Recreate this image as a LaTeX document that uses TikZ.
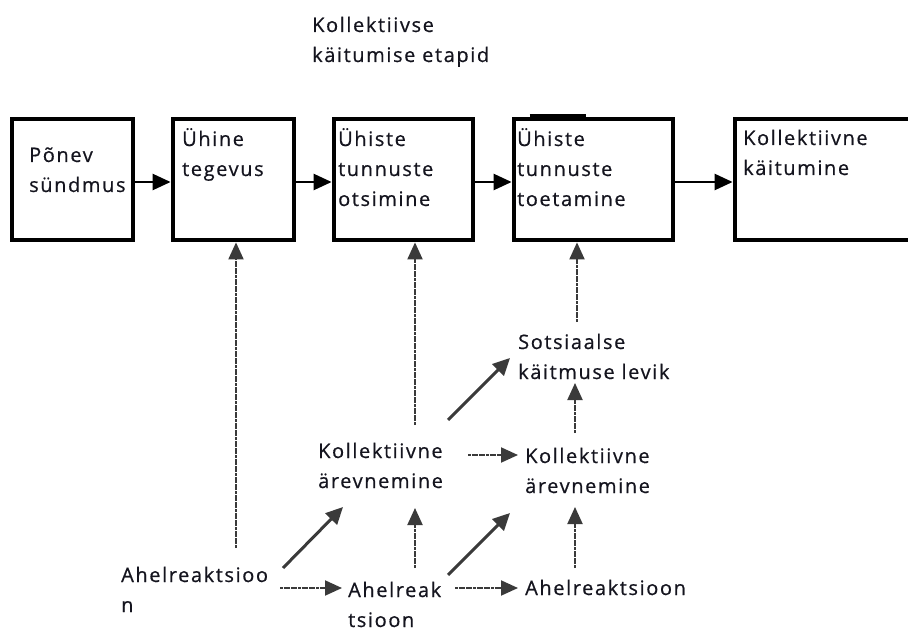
\documentclass[tikz,border=0pt]{standalone}
\usepackage{fontspec}
\setmainfont{Open Sans}[LetterSpace=8,FakeBold=0.6]
\usetikzlibrary{arrows.meta,calc}
\definecolor{ink}{HTML}{14141E}
\definecolor{lnk}{HTML}{3A3A3A}
\begin{document}
\begin{tikzpicture}[x=1pt,y=-1pt,
  lbl/.style={anchor=base west, inner sep=0pt, align=left, font=\fontsize{20}{30}\selectfont, text=ink},
  stage/.style={draw=black, line width=4.8pt, minimum height=121pt},
  flow/.style={line width=2.5pt, black, -{Triangle[length=18pt,width=16pt]}},
  link/.style={line width=2pt, lnk, dash pattern=on 3pt off 0.6pt, -{Triangle[length=17pt,width=15pt]}},
  diag/.style={line width=3pt, lnk, -{Triangle[length=17pt,width=16pt]}}]
\useasboundingbox (0,0) rectangle (908,631);
\clip (0,0) rectangle (908,631);
% title (anchor = baseline of the last line)
\node[lbl] (title) at (312,62) {Kollektiivse\\käitumise etapid};
% stage boxes
\node[stage, minimum width=121pt] (b1) at (72.5,179.5) {};
\node[stage, minimum width=121pt] (b2) at (233.5,179.5) {};
\node[stage, minimum width=139pt] (b3) at (403.5,179.5) {};
\node[stage, minimum width=159pt] (b4) at (593.5,179.5) {};
\node[stage, minimum width=200pt] (b5) at (835,179.5) {};
\draw[line width=6pt] ($(b4.north west)+(18,0)$) -- ($(b4.north west)+(74,0)$);
% box texts
\node[lbl] (t1) at (29,192) {Põnev\\sündmus};
\node[lbl] (t2) at (182,176) {Ühine\\tegevus};
\node[lbl] (t3) at (338,206) {Ühiste\\tunnuste\\otsimine};
\node[lbl] (t4) at (517,206) {Ühiste\\tunnuste\\toetamine};
\node[lbl] (t5) at (743,175) {Kollektiivne\\käitumine};
% flow arrows
\draw[flow] ([yshift=-2.5pt]b1.east) -- ([yshift=-2.5pt]b2.west);
\draw[flow] ([yshift=-2.5pt]b2.east) -- ([yshift=-2.5pt]b3.west);
\draw[flow] ([yshift=-2.5pt]b3.east) -- ([yshift=-2.5pt]b4.west);
\draw[flow] ([yshift=-2.5pt]b4.east) -- ([yshift=-2.5pt]b5.west);
% lower labels
\node[lbl] (s) at (518,379) {Sotsiaalse\\käitmuse levik};
\node[lbl] (a1) at (318,488) {Kollektiivne\\ärevnemine};
\node[lbl] (a2) at (525,493) {Kollektiivne\\ärevnemine};
\node[lbl] (c1) at (121,612) {Ahelreaktsioo\\n};
\node[lbl] (c2) at (348,627) {Ahelreak\\tsioon};
\node[lbl] (c3) at (525,595) {Ahelreaktsioon};
% connection points
\coordinate (c1up) at (236,548);
\coordinate (c1ne) at (283,568);
\coordinate (c1e) at (280,588);
\coordinate (c2in) at (342,588);
\coordinate (c2up) at (415,568);
\coordinate (c2ne) at (448,575);
\coordinate (c2e) at (455,588);
\coordinate (c3in) at (518,588);
\coordinate (c3up) at (575,568);
\coordinate (a1sw) at (343,507);
\coordinate (a1dn) at (415,508);
\coordinate (a1up) at (415,425);
\coordinate (a1e) at (468,455);
\coordinate (a1ne) at (448,420);
\coordinate (a2w) at (518,455);
\coordinate (a2sw) at (510,513);
\coordinate (a2dn) at (575,507);
\coordinate (a2up) at (575,433);
\coordinate (sdn) at (575,383);
\coordinate (ssw) at (510,358);
\coordinate (sup) at (577,322);
% lower connectors
\draw[diag] (c1ne) -- (a1sw);
\draw[link] (c1e) -- (c2in);
\draw[link] (c2up) -- (a1dn);
\draw[diag] (c2ne) -- (a2sw);
\draw[link] (c2e) -- (c3in);
\draw[link] (a1e) -- (a2w);
\draw[diag] (a1ne) -- (ssw);
\draw[link] (c3up) -- (a2dn);
\draw[link] (a2up) -- (sdn);
\draw[link] (sup) -- (sup |- b4.south);
\draw[link] (a1up) -- (a1up |- b3.south);
\draw[link] (c1up) -- (c1up |- b2.south);
\end{tikzpicture}
\end{document}
